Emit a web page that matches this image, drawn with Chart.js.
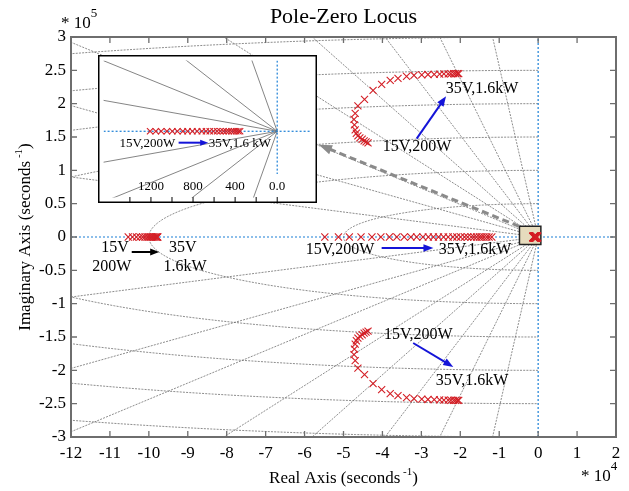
<!DOCTYPE html>
<html>
<head>
<meta charset="utf-8">
<script src="https://cdn.jsdelivr.net/npm/chart.js@4.4.0/dist/chart.umd.min.js"></script>
<style>
  html, body { margin: 0; padding: 0; background: #fff; }
  #wrap { position: relative; width: 629px; height: 491px; }
  #main { position: absolute; left: 0; top: 0; }
  #inset { position: absolute; left: 98px; top: 55px; }
</style>
</head>
<body>
<div id="wrap">
  <canvas id="main" width="629" height="491" style="width:629px;height:491px"></canvas>
  <canvas id="inset" width="219" height="148" style="width:219px;height:148px"></canvas>
</div>
<script>
// main plot: real part in 1e4 s^-1, imaginary part in 1e5 s^-1

// complex pair (upper half, lower half is its conjugate), 15V,200W -> 35V,1.6kW
const complexRe = [-4.37, -4.42, -4.47, -4.52, -4.58, -4.63, -4.67, -4.70, -4.72, -4.73,
  -4.70, -4.63, -4.46, -4.24, -4.02, -3.80, -3.60, -3.38, -3.19, -2.99,
  -2.83, -2.67, -2.53, -2.42, -2.31, -2.24, -2.17, -2.12, -2.07, -2.04];
const complexIm = [1.413, 1.428, 1.443, 1.466, 1.488, 1.518, 1.556, 1.608, 1.683, 1.765,
  1.855, 1.968, 2.065, 2.20, 2.29, 2.35, 2.38, 2.41, 2.425, 2.433,
  2.437, 2.44, 2.443, 2.446, 2.448, 2.449, 2.45, 2.45, 2.45, 2.45];

// real pole, 15V,200W -> 35V,1.6kW
const realPole = [-5.48, -5.13, -4.85, -4.55, -4.27, -4.04, -3.82, -3.63, -3.44, -3.27,
  -3.12, -2.96, -2.82, -2.69, -2.56, -2.43, -2.31, -2.19, -2.09, -1.99,
  -1.89, -1.81, -1.72, -1.65, -1.58, -1.51, -1.45, -1.39, -1.32, -1.26, -1.19];

// fast real pole near -1e5
const farPole = [-10.53, -10.42, -10.32, -10.23, -10.16, -10.10, -10.04, -9.99, -9.95, -9.91,
  -9.88, -9.85, -9.82, -9.80, -9.78, -9.77];

// slow real pole (s^-1), shown in the zoomed inset
const slowPole = [-1208, -1154, -1103, -1048, -997, -949, -897, -852, -806, -761,
  -716, -677, -641, -605, -571, -541, -511, -484, -460, -435, -412, -390, -369, -353];

// s-plane grid
const zetaMain = [0.039, 0.084, 0.13, 0.19, 0.26, 0.38, 0.52, 0.80];
const wnMain = [0.5, 1, 1.5, 2, 2.5, 3];        // 1e5 s^-1
const zetaInset = [0.19, 0.57, 0.80, 0.95];

// inset axes (s^-1)
const insetX = [-1650, 325];
const insetY = [-1160, 1240];
const insetMinor = [-1400, -1200, -1000, -800, -600, -400, -200, 0];
const insetLabels = [-1200, -800, -400, 0];
const insetLabelText = ['1200', '800', '400', '0.0'];

// zoom box around origin and link arrow to the inset
const zoomBox = [[-0.48, 0.16], [0.07, 0.16], [0.07, -0.114], [-0.48, -0.114]];
const linkArrow = [-0.49, 0.16, -5.63, 1.383];

// labels and arrows (main plot units)
const notes = [
  ['15V,200W', -3.11, 1.36], ['35V,1.6kW', -1.44, 2.23],
  ['15V,200W', -5.09, -0.185], ['35V,1.6kW', -1.62, -0.185],
  ['15V,200W', -3.08, -1.46], ['35V,1.6kW', -1.70, -2.15],
  ['15V', -10.87, -0.155], ['200W', -10.95, -0.44],
  ['35V', -9.13, -0.155], ['1.6kW', -9.07, -0.44]
];
const blueArrows = [
  [-3.12, 1.476, -2.365, 2.11],
  [-4.02, -0.165, -2.69, -0.165],
  [-3.21, -1.59, -2.18, -1.95]
];
const blackArrows = [[-10.44, -0.225, -9.735, -0.225]];
const insetNotes = [['15V,200W', -1234, -212], ['35V,1.6 kW', -355, -212]];
const insetArrow = [-937, -200, -656, -200];

const serif = '"Liberation Serif", "Times New Roman", serif';
const red = '#d41f26';
const gridGray = 'rgba(105,105,105,0.85)';
const axisBlue = '#1b7fd6';

function arrow(ctx, x1, y1, x2, y2, color, width, head, dash) {
  const a = Math.atan2(y2 - y1, x2 - x1);
  const c = Math.cos(a), s = Math.sin(a);
  ctx.save();
  ctx.strokeStyle = color;
  ctx.fillStyle = color;
  ctx.lineWidth = width;
  ctx.setLineDash(dash || []);
  ctx.beginPath();
  ctx.moveTo(x1, y1);
  ctx.lineTo(x2 - head * 0.7 * c, y2 - head * 0.7 * s);
  ctx.stroke();
  ctx.setLineDash([]);
  ctx.beginPath();
  ctx.moveTo(x2, y2);
  ctx.lineTo(x2 - head * c + head * 0.38 * s, y2 - head * s - head * 0.38 * c);
  ctx.lineTo(x2 - head * c - head * 0.38 * s, y2 - head * s + head * 0.38 * c);
  ctx.closePath();
  ctx.fill();
  ctx.restore();
}

// text made of parts [text, size, raise], centred (or left aligned) at x
function parts(ctx, list, x, y, left) {
  let w = 0;
  list.forEach(p => { ctx.font = p[1] + 'px ' + serif; w += ctx.measureText(p[0]).width; });
  let cx = left ? x : x - w / 2;
  ctx.textAlign = 'left';
  ctx.textBaseline = 'middle';
  list.forEach(p => {
    ctx.font = p[1] + 'px ' + serif;
    ctx.fillText(p[0], cx, y - p[2]);
    cx += ctx.measureText(p[0]).width;
  });
}

function line(data, color, width, dash, order) {
  return { data, showLine: true, pointRadius: 0, borderColor: color, borderWidth: width,
    borderDash: dash, fill: false, tension: 0, order };
}

function marks(data, label, radius, order) {
  return { label, data, showLine: false, pointStyle: 'crossRot', pointRadius: radius,
    borderColor: red, backgroundColor: red, borderWidth: 1.1, order };
}

// ---------- main chart ----------
const mainSets = [];
zetaMain.forEach(z => {
  const r = 4, wd = Math.sqrt(1 - z * z);
  mainSets.push(line([{ x: -r * z * 10, y: r * wd }, { x: 0, y: 0 }, { x: -r * z * 10, y: -r * wd }],
    gridGray, 0.9, [2, 1.2], 5));
});
wnMain.forEach(wn => {
  const pts = [];
  for (let d = 90; d <= 270; d += 1.5) {
    const t = d * Math.PI / 180;
    pts.push({ x: wn * 10 * Math.cos(t), y: wn * Math.sin(t) });
  }
  mainSets.push(line(pts, gridGray, 0.9, [2, 1.2], 5));
});
mainSets.push(line([{ x: 0, y: -3 }, { x: 0, y: 3 }], axisBlue, 1.2, [2, 2], 3));
mainSets.push(line([{ x: -12, y: 0 }, { x: 2, y: 0 }], axisBlue, 1.2, [2, 2], 3));
mainSets.push(marks(complexRe.map((v, i) => ({ x: v, y: complexIm[i] })), 'upper', 5, 1));
mainSets.push(marks(complexRe.map((v, i) => ({ x: v, y: -complexIm[i] })), 'lower', 5, 1));
mainSets.push(marks(realPole.map(v => ({ x: v, y: 0 })), 'real', 5, 1));
mainSets.push(marks(farPole.map(v => ({ x: v, y: 0 })), 'far', 5, 1));
mainSets.push(marks(slowPole.map(v => ({ x: v / 1e4, y: 0 })), 'slow', 6, 0));

const mainDecor = {
  id: 'mainDecor',
  beforeDatasetDraw(chart, args) {
    if (chart.data.datasets[args.index].label !== 'slow') return;
    const { ctx, scales: { x, y } } = chart;
    ctx.save();
    ctx.beginPath();
    zoomBox.forEach((p, i) => {
      const px = x.getPixelForValue(p[0]), py = y.getPixelForValue(p[1]);
      if (i) ctx.lineTo(px, py); else ctx.moveTo(px, py);
    });
    ctx.closePath();
    ctx.fillStyle = '#e6dbbd';
    ctx.fill();
    ctx.strokeStyle = '#222';
    ctx.lineWidth = 1.5;
    ctx.stroke();
    ctx.restore();
  },
  afterDatasetsDraw(chart) {
    const { ctx, chartArea: a, scales: { x, y } } = chart;
    const X = v => x.getPixelForValue(v), Y = v => y.getPixelForValue(v);
    ctx.save();
    // frame and inward ticks
    ctx.strokeStyle = '#6e6e6e';
    ctx.lineWidth = 2;
    ctx.strokeRect(a.left, a.top, a.right - a.left, a.bottom - a.top);
    ctx.lineWidth = 1.3;
    ctx.beginPath();
    x.ticks.forEach(t => {
      const px = X(t.value);
      ctx.moveTo(px, a.bottom); ctx.lineTo(px, a.bottom - 6);
      ctx.moveTo(px, a.top); ctx.lineTo(px, a.top + 6);
    });
    y.ticks.forEach(t => {
      const py = Y(t.value);
      ctx.moveTo(a.left, py); ctx.lineTo(a.left + 6, py);
      ctx.moveTo(a.right, py); ctx.lineTo(a.right - 6, py);
    });
    ctx.stroke();

    // link arrow to inset
    arrow(ctx, X(linkArrow[0]), Y(linkArrow[1]), X(linkArrow[2]), Y(linkArrow[3]), '#8a8a8a', 3, 13, [7, 4]);
    blueArrows.forEach(r => arrow(ctx, X(r[0]), Y(r[1]), X(r[2]), Y(r[3]), '#1414d8', 2, 10));
    blackArrows.forEach(r => arrow(ctx, X(r[0]), Y(r[1]), X(r[2]), Y(r[3]), '#000', 2, 9));

    ctx.fillStyle = '#000';
    ctx.font = '16px ' + serif;
    ctx.textAlign = 'center';
    ctx.textBaseline = 'middle';
    notes.forEach(n => ctx.fillText(n[0], X(n[1]), Y(n[2])));

    // titles
    parts(ctx, [['Pole-Zero Locus', 22, 0]], (a.left + a.right) / 2, 17);
    parts(ctx, [['Real Axis (seconds', 17, 0], [' -1', 11, 7], [')', 17, 0]], (a.left + a.right) / 2, 479);
    parts(ctx, [['* 10', 17, 0], ['5', 13, 10]], 61, 24, true);
    parts(ctx, [['* 10', 17, 0], ['4', 13, 10]], 581, 477, true);
    ctx.translate(26, (a.top + a.bottom) / 2);
    ctx.rotate(-Math.PI / 2);
    parts(ctx, [['Imaginary Axis (seconds', 17, 0], [' -1', 11, 7], [')', 17, 0]], 0, 0);
    ctx.restore();
  }
};

new Chart(document.getElementById('main'), {
  type: 'scatter',
  data: { datasets: mainSets },
  options: {
    responsive: false,
    animation: false,
    events: [],
    layout: { padding: { top: 37, right: 13, left: 0, bottom: 0 } },
    plugins: { legend: { display: false }, tooltip: { enabled: false } },
    scales: {
      x: {
        type: 'linear', min: -12, max: 2,
        afterFit: s => { s.height = 54; },
        grid: { display: false, drawTicks: false },
        border: { display: false },
        ticks: { stepSize: 1, padding: 6, color: '#000', autoSkip: false, maxRotation: 0,
          font: { family: serif, size: 17 } }
      },
      y: {
        type: 'linear', min: -3, max: 3,
        afterFit: s => { s.width = 71; },
        grid: { display: false, drawTicks: false },
        border: { display: false },
        ticks: { stepSize: 0.5, padding: 5, color: '#000', autoSkip: false,
          font: { family: serif, size: 17 },
          callback: v => String(Math.round(v * 10) / 10) }
      }
    }
  },
  plugins: [mainDecor]
});

// ---------- inset chart ----------
const insetSets = [];
zetaInset.forEach(z => {
  const r = 6000, wd = Math.sqrt(1 - z * z);
  insetSets.push(line([{ x: -r * z, y: r * wd }, { x: 0, y: 0 }, { x: -r * z, y: -r * wd }],
    'rgba(120,120,120,0.9)', 1, [], 5));
});
insetSets.push(line([{ x: insetX[0], y: 0 }, { x: insetX[1], y: 0 }], axisBlue, 1.2, [2, 2], 3));
insetSets.push(line([{ x: 0, y: insetY[1] }, { x: 0, y: -750 }], axisBlue, 1.2, [2, 2], 3));
insetSets.push(marks(slowPole.map(v => ({ x: v, y: 0 })), 'inset', 4.5, 0));

const insetDecor = {
  id: 'insetDecor',
  beforeDraw(chart) {
    const { ctx, width, height } = chart;
    ctx.save();
    ctx.fillStyle = '#fff';
    ctx.fillRect(0, 0, width, height);
    ctx.restore();
  },
  afterDatasetsDraw(chart) {
    const { ctx, width, height, scales: { x, y } } = chart;
    const X = v => x.getPixelForValue(v), Y = v => y.getPixelForValue(v);
    ctx.save();
    ctx.strokeStyle = '#000';
    ctx.lineWidth = 1;
    ctx.beginPath();
    insetMinor.forEach(v => { ctx.moveTo(X(v), height); ctx.lineTo(X(v), height - 6); });
    ctx.stroke();
    ctx.fillStyle = '#000';
    ctx.font = '13px ' + serif;
    ctx.textAlign = 'center';
    ctx.textBaseline = 'middle';
    insetLabels.forEach((v, i) => ctx.fillText(insetLabelText[i], X(v), height - 16));
    arrow(ctx, X(insetArrow[0]), Y(insetArrow[1]), X(insetArrow[2]), Y(insetArrow[3]), '#1414d8', 2, 8);
    insetNotes.forEach(n => ctx.fillText(n[0], X(n[1]), Y(n[2])));
    ctx.lineWidth = 1.5;
    ctx.strokeRect(0.75, 0.75, width - 1.5, height - 1.5);
    ctx.restore();
  }
};

new Chart(document.getElementById('inset'), {
  type: 'scatter',
  data: { datasets: insetSets },
  options: {
    responsive: false,
    animation: false,
    events: [],
    layout: { padding: 0 },
    plugins: { legend: { display: false }, tooltip: { enabled: false } },
    scales: {
      x: { type: 'linear', display: false, min: insetX[0], max: insetX[1] },
      y: { type: 'linear', display: false, min: insetY[0], max: insetY[1] }
    }
  },
  plugins: [insetDecor]
});
</script>
</body>
</html>
